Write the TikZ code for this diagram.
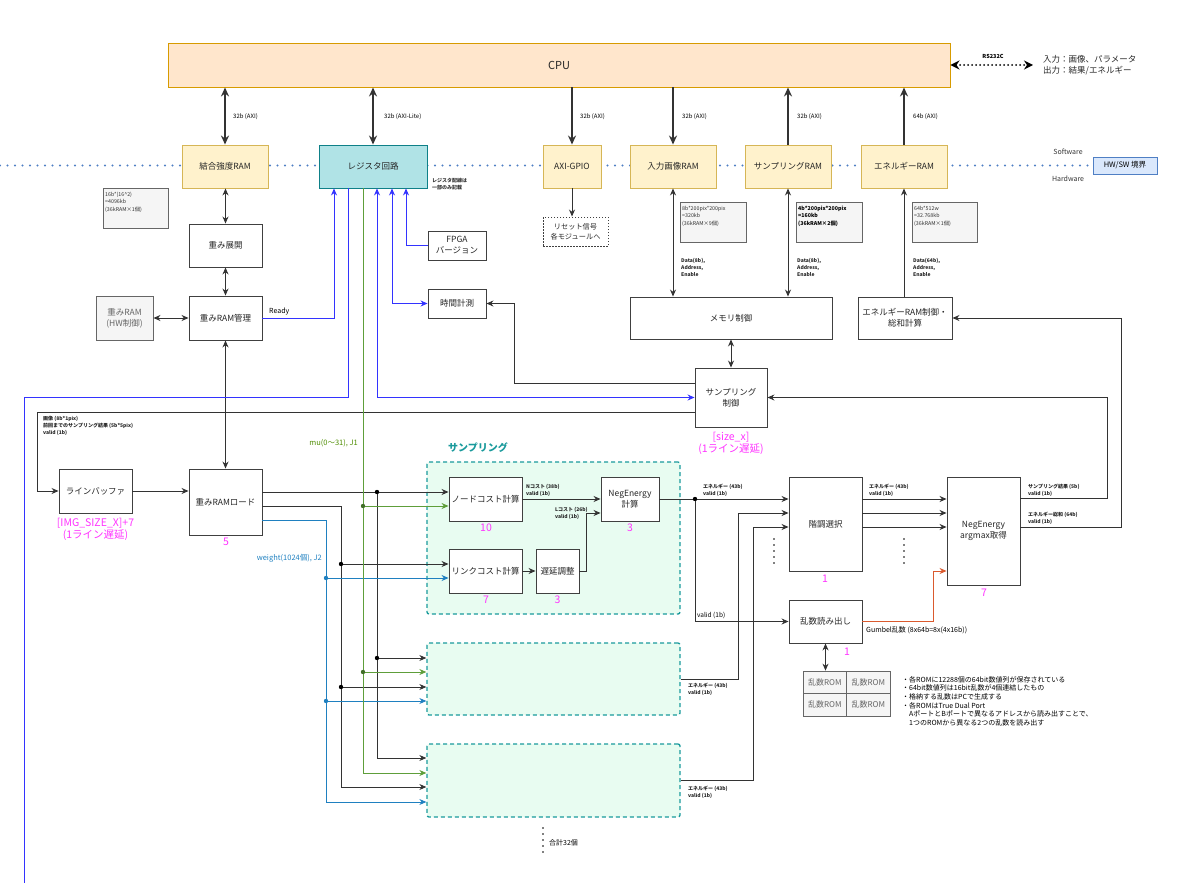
\documentclass[tikz,border=0pt]{standalone}
\usepackage{fontspec}
\setmainfont{Noto Sans CJK JP}
\usetikzlibrary{arrows.meta}

\definecolor{cpufill}{HTML}{FFE6CC}
\definecolor{cpuline}{HTML}{D79B00}
\definecolor{ramfill}{HTML}{FFF2CC}
\definecolor{ramline}{HTML}{D6B656}
\definecolor{regfill}{HTML}{B0E3E6}
\definecolor{regline}{HTML}{0E8088}
\definecolor{notefill}{HTML}{F5F5F5}
\definecolor{noteline}{HTML}{666666}
\definecolor{bndfill}{HTML}{DAE8FC}
\definecolor{bndline}{HTML}{4F7FC4}
\definecolor{sampfill}{HTML}{E8FCF1}
\definecolor{sampline}{HTML}{1A9A9C}
\definecolor{latpink}{HTML}{FF33FF}
\definecolor{regblue}{HTML}{3333FF}
\definecolor{mugreen}{HTML}{5E9E3A}
\definecolor{mutext}{HTML}{4D8C00}
\definecolor{wblue}{HTML}{1F80C0}
\definecolor{gumred}{HTML}{DA5A2E}

\tikzset{
  blk/.style={draw=black!75, fill=white, line width=0.9pt, align=center, text=black!85,
    font=\fontsize{8.5}{11}\selectfont, inner sep=1pt},
  ramblk/.style={blk, draw=ramline, fill=ramfill},
  memnote/.style={draw=noteline, fill=notefill, line width=0.8pt},
  notetxt/.style={anchor=north west, align=left, inner sep=0pt, font=\fontsize{5.3}{7.3}\selectfont, text=black!80},
  sampblk/.style={draw=sampline, fill=sampfill, line width=1.3pt, dash pattern=on 4pt off 3pt, rounded corners=2pt},
  wire/.style={draw=black!80, line width=0.9pt},
  axibus/.style={draw=black!80, line width=1.8pt, >={Stealth[length=9pt,width=8pt]}},
  regw/.style={draw=regblue, line width=0.9pt},
  muw/.style={draw=mugreen, line width=1pt},
  wbw/.style={draw=wblue, line width=0.9pt},
  sig/.style={anchor=north west, font=\fontsize{5}{7}\selectfont\bfseries, align=left, inner sep=0pt, text=black!85},
  axi/.style={anchor=west, font=\fontsize{6}{7}\selectfont, inner sep=0pt},
  lat/.style={text=latpink, font=\fontsize{10.5}{12}\selectfont, align=center, inner sep=0pt},
}

\begin{document}
\begin{tikzpicture}[x=1pt, y=-1pt, >={Stealth[length=7pt,width=6pt]}]
\useasboundingbox (0,0) rectangle (1179,883);

% Sampling blocks (32 in total)
\node[sampblk, minimum width=253pt, minimum height=152pt] (s1) at (553.5,538) {};
\node[sampblk, minimum width=253pt, minimum height=72pt] (s2) at (553.5,679) {};
\node[sampblk, minimum width=253pt, minimum height=73pt] (s3) at (553.5,780.5) {};
\node[text=sampline, font=\fontsize{10}{12}\selectfont\bfseries] (stitle) at (478,448) {サンプリング};

% HW/SW boundary
\node[draw=bndline, fill=bndfill, line width=0.9pt, minimum width=64pt, minimum height=17pt, inner sep=0pt,
  font=\fontsize{7.5}{9}\selectfont] (bnd) at (1125,165.5) {HW/SW 境界};
\coordinate (bl) at (0,165.5);
\draw[bndline, line width=2.4pt, line cap=round, dash pattern=on 0pt off 7.5pt] (bl) -- (bnd.west);
\node[font=\fontsize{7}{8}\selectfont, text=black!80] (swl) at (1068,152) {Software};
\node[font=\fontsize{7}{8}\selectfont, text=black!80] (hwl) at (1068,179) {Hardware};

% CPU
\node[blk, draw=cpuline, fill=cpufill, minimum width=782pt, minimum height=44pt, font=\fontsize{11}{13}\selectfont] (cpu) at (559,65) {CPU};
\coordinate (pc) at (1033,65);
\draw[line width=2pt, <->, >={Stealth[length=9pt,width=9pt]}, dash pattern=on 0pt off 4pt, line cap=round] (cpu.east) -- (pc);
\node[font=\fontsize{5.5}{6}\selectfont\bfseries] (rsl) at (993,56) {RS232C};
\node[anchor=west, align=left, font=\fontsize{8.5}{11}\selectfont, inner sep=0pt, text=black!85] (iol) at (1043,65) {入力：画像、パラメータ\\出力：結果/エネルギー};

% Top row
\node[ramblk, minimum width=86pt, minimum height=43pt] (wram) at (225,166.5) {結合強度RAM};
\node[blk, draw=regline, fill=regfill, minimum width=108pt, minimum height=43pt] (reg) at (373,166.5) {レジスタ回路};
\node[ramblk, minimum width=58pt, minimum height=43pt] (gpio) at (572,166.5) {AXI-GPIO};
\node[ramblk, minimum width=86pt, minimum height=43pt] (imgram) at (673,166.5) {入力画像RAM};
\node[ramblk, minimum width=86pt, minimum height=43pt] (smpram) at (788,166.5) {サンプリングRAM};
\node[ramblk, minimum width=86pt, minimum height=43pt] (eneram) at (904,166.5) {エネルギーRAM};

% AXI links
\draw[axibus, <->] (wram.north) -- (wram.north |- cpu.south);
\draw[axibus, <->] (reg.north) -- (reg.north |- cpu.south);
\draw[axibus, ->] (gpio.north |- cpu.south) -- (gpio.north);
\draw[axibus, ->] (imgram.north |- cpu.south) -- (imgram.north);
\draw[axibus, ->] (smpram.north) -- (smpram.north |- cpu.south);
\draw[axibus, ->] (eneram.north) -- (eneram.north |- cpu.south);
\node[axi] (ax1) at (233,117) {32b (AXI)};
\node[axi] (ax2) at (384,117) {32b (AXI-Lite)};
\node[axi] (ax3) at (580,117) {32b (AXI)};
\node[axi] (ax4) at (682,117) {32b (AXI)};
\node[axi] (ax5) at (797,117) {32b (AXI)};
\node[axi] (ax6) at (913,117) {64b (AXI)};

% RAM sizes
\node[memnote, minimum width=65pt, minimum height=40pt] (wnote) at (135.5,208) {};
\node[notetxt] (wnotet) at (105,192) {16b*(16\textasciicircum 2)\\=4096kb\\(36kRAM×1個)};
\node[memnote, minimum width=66pt, minimum height=40pt] (inote) at (713,222) {};
\node[notetxt] (inotet) at (682,206) {8b*200pix*200pix\\=320kb\\(36kRAM×9個)};
\node[memnote, minimum width=66pt, minimum height=40pt] (snote) at (829,222) {};
\node[notetxt, font=\fontsize{5.3}{7.3}\selectfont\bfseries, text=black] (snotet) at (798,206) {4b*200pix*200pix\\=160kb\\(36kRAM×2個)};
\node[memnote, minimum width=65pt, minimum height=40pt] (enote) at (944.5,222) {};
\node[notetxt] (enotet) at (914,206) {64b*512w\\=32.768kb\\(36kRAM×1個)};

% Weight RAM path
\node[blk, minimum width=73pt, minimum height=43pt] (expand) at (225.5,245.5) {重み展開};
\node[blk, minimum width=73pt, minimum height=44pt] (wmgr) at (225.5,318) {重みRAM管理};
\node[blk, draw=noteline, fill=notefill, text=black!60, minimum width=57pt, minimum height=44pt] (hwram) at (124.5,318) {重みRAM\\(HW制御)};
\draw[wire, <->] (expand.north) -- (expand.north |- wram.south);
\draw[wire, <->] (expand.south) -- (wmgr.north);
\draw[wire, <->] (hwram.east) -- (wmgr.west);

% Register side
\node[blk, minimum width=58pt, minimum height=29pt] (fpga) at (457,245.5) {FPGA\\バージョン};
\node[blk, minimum width=58pt, minimum height=29pt] (timer) at (457,303.5) {時間計測};
\node[notetxt, font=\fontsize{5}{7}\selectfont\bfseries] (regnote) at (432,178) {レジスタ配線は\\一部のみ記載};
\node[blk, dash pattern=on 1.5pt off 1.5pt, minimum width=65pt, minimum height=29pt, font=\fontsize{7.2}{10}\selectfont] (rst) at (575.5,231.5) {リセット信号\\各モジュールへ};
\draw[wire, ->] (gpio.south) -- (gpio.south |- rst.north);

% Memory control
\node[blk, minimum width=202pt, minimum height=42pt] (memctl) at (731,318) {メモリ制御};
\node[blk, minimum width=94pt, minimum height=42pt] (enectl) at (905,318) {エネルギーRAM制御・\\総和計算};
\node[blk, minimum width=72pt, minimum height=59pt] (smpctl) at (731,397.5) {サンプリング\\制御};
\draw[wire, <->] (imgram.south) -- (imgram.south |- memctl.north);
\draw[wire, <->] (smpram.south) -- (smpram.south |- memctl.north);
\draw[wire, ->] (eneram.south |- enectl.north) -- (eneram.south);
\draw[wire, <->] (smpctl.north |- memctl.south) -- (smpctl.north);
\node[sig] (d1) at (681,258) {Data(8b),\\Address,\\Enable};
\node[sig] (d2) at (797,258) {Data(8b),\\Address,\\Enable};
\node[sig] (d3) at (913,258) {Data(64b),\\Address,\\Enable};
\node[lat] (szx) at (731,443) {[size\_x]\\(1ライン遅延)};

% Line buffer and weight load
\node[blk, minimum width=73pt, minimum height=44pt] (lbuf) at (95.5,491) {ラインバッファ};
\node[blk, minimum width=73pt, minimum height=66pt] (wload) at (225.5,502) {重みRAMロード};
\node[lat] (imgx) at (95.5,529) {[IMG\_SIZE\_X]+7\\(1ライン遅延)};
\node[lat] (n5) at (226,542) {5};
\draw[wire, <->] (wmgr.south) -- (wload.north);
\draw[wire, ->] (lbuf.east) -- (wload.west |- lbuf.east);

% Register wiring
\coordinate (c1) at (334,0);
\coordinate (c2) at (348,0);
\coordinate (bm) at (363,0);
\coordinate (c3) at (377,0);
\coordinate (c4) at (392,0);
\coordinate (c5) at (406,0);
\coordinate (lft) at (24,883);
\draw[regw, ->] (wmgr.east) -| (reg.south -| c1);
\node[font=\fontsize{7}{8}\selectfont, anchor=south west, inner sep=1pt] (rdy) at (268,316) {Ready};
\draw[regw] (reg.south -| c2) |- (lft |- smpctl.west) -- (lft);
\draw[regw, <->] (reg.south -| c3) |- (smpctl.west);
\draw[regw, <->] (reg.south -| c4) |- (timer.west);
\draw[regw, ->] (fpga.west) -| (reg.south -| c5);

% Feedback to line buffer and timer
\coordinate (lp) at (37,412);
\coordinate (tm) at (514,383);
\draw[wire, ->] (smpctl.west |- lp) -- (lp) |- (lbuf.west);
\draw[wire, ->] (smpctl.west |- tm) -- (tm) |- (timer.east);
\node[sig] (lpl) at (43,416) {画像 (8b*1pix)\\前回までのサンプリング結果 (5b*5pix)\\valid (1b)};

% Sampling block contents
\node[blk, minimum width=73pt, minimum height=44pt] (ncost) at (485.5,499) {ノードコスト計算};
\node[blk, minimum width=73pt, minimum height=44pt] (lcost) at (485.5,571) {リンクコスト計算};
\node[blk, minimum width=43pt, minimum height=44pt] (dly) at (557.5,571) {遅延調整};
\node[blk, minimum width=58pt, minimum height=44pt] (negE) at (630,499) {NegEnergy\\計算};
\node[lat] (n10) at (486,528) {10};
\node[lat] (n7a) at (486,600) {7};
\node[lat] (n3a) at (557.5,600) {3};
\node[lat] (n3b) at (630,528) {3};
\draw[wire, ->] (ncost.east) -- (negE.west);
\draw[wire, ->] (lcost.east) -- (dly.west);
\draw[wire, ->] (dly.east) -- ++(7,0) |- ([yshift=-14pt]negE.west);
\node[sig] (ncl) at (526,484) {Nコスト (38b)\\valid (1b)};
\node[sig] (lcl) at (555,507) {Lコスト (26b)\\valid (1b)};

% Buses into sampling blocks
\coordinate (ba) at (377,0);
\coordinate (bb) at (341,0);
\coordinate (bw) at (326,0);
\coordinate (rN) at (0,492);
\coordinate (rM) at (0,506);
\coordinate (rW) at (0,520);
\coordinate (rL) at (0,564);
\coordinate (rV) at (0,578);
\coordinate (r2a) at (0,658);
\coordinate (r2m) at (0,672);
\coordinate (r2b) at (0,687);
\coordinate (r2w) at (0,701);
\coordinate (r3a) at (0,758);
\coordinate (r3m) at (0,773);
\coordinate (r3b) at (0,787);
\coordinate (r3w) at (0,802);
\draw[wire, ->] (wload.east |- rN) -- (ncost.west |- rN);
\draw[wire, ->] (ba |- rN) -- (ba |- r3a) -- (s3.west |- r3a);
\draw[wire, ->] (ba |- r2a) -- (s2.west |- r2a);
\draw[wire, ->] (wload.east |- rM) -| (bb |- r3b) -- (s3.west |- r3b);
\draw[wire, ->] (bb |- rL) -- (lcost.west |- rL);
\draw[wire, ->] (bb |- r2b) -- (s2.west |- r2b);
\draw[wbw, ->] (wload.east |- rW) -| (bw |- r3w) -- (s3.west |- r3w);
\draw[wbw, ->] (bw |- rV) -- (lcost.west |- rV);
\draw[wbw, ->] (bw |- r2w) -- (s2.west |- r2w);
\draw[muw, ->] (reg.south -| bm) -- (bm |- r3m) -- (s3.west |- r3m);
\draw[muw, ->] (bm |- rM) -- (ncost.west |- rM);
\draw[muw, ->] (bm |- r2m) -- (s2.west |- r2m);
\fill (ba |- rN) circle (2.2pt) (ba |- r2a) circle (2.2pt) (bb |- rL) circle (2.2pt) (bb |- r2b) circle (2.2pt);
\fill[wblue] (bw |- rV) circle (2.2pt) (bw |- r2w) circle (2.2pt);
\fill[mugreen!70!black] (bm |- rM) circle (2.2pt) (bm |- r2m) circle (2.2pt);
\node[anchor=east, text=mutext, font=\fontsize{7.5}{9}\selectfont, inner sep=0pt] (mul) at (358,443) {mu(0〜31), J1};
\node[anchor=east, text=wblue, font=\fontsize{7.5}{9}\selectfont, inner sep=0pt] (wl) at (322,558) {weight(1024個), J2};

% Gradation select and argmax
\node[blk, minimum width=73pt, minimum height=94pt] (grad) at (825.5,524) {階調選択};
\node[blk, minimum width=73pt, minimum height=108pt] (amax) at (983.5,531) {NegEnergy\\argmax取得};
\node[blk, minimum width=73pt, minimum height=43pt] (rnd) at (825.5,621.5) {乱数読み出し};
\node[lat] (n1a) at (825,579) {1};
\node[lat] (n7b) at (984,593) {7};
\node[lat] (n1b) at (847,652) {1};
\coordinate (tap) at (695,499);
\coordinate (k2) at (738,513);
\coordinate (k3) at (753,527);
\draw[wire, ->] (negE.east) -- (grad.west |- negE.east);
\draw[wire, ->] (tap) |- (rnd.west);
\fill (tap) circle (2.2pt);
\draw[wire, ->] (s2.east) -| (k2) -- (grad.west |- k2);
\draw[wire, ->] (s3.east) -| (k3) -- (grad.west |- k3);
\draw[wire, ->] (grad.east |- negE.east) -- (amax.west |- negE.east);
\draw[wire, ->] (grad.east |- k2) -- (amax.west |- k2);
\draw[wire, ->] (grad.east |- k3) -- (amax.west |- k3);
\node[sig] (e1) at (703,484) {エネルギー (43b)\\valid (1b)};
\node[sig] (e2) at (869,484) {エネルギー (43b)\\valid (1b)};
\node[sig] (e3) at (688,683) {エネルギー (43b)\\valid (1b)};
\node[sig] (e4) at (688,786) {エネルギー (43b)\\valid (1b)};
\node[anchor=west, font=\fontsize{6.5}{8}\selectfont, inner sep=0pt] (vl) at (697,615) {valid (1b)};
\foreach \k in {0,...,4}
  \fill (774,539+6*\k) circle (0.9pt) (904,539+6*\k) circle (0.9pt);

% Feedback from argmax
\coordinate (fb1) at (1107,498);
\coordinate (fb2) at (1121,527);
\draw[wire, ->] (amax.east |- fb1) -- (fb1) |- (smpctl.east);
\draw[wire, ->] (amax.east |- fb2) -- (fb2) |- (enectl.east);
\node[sig] (o1) at (1028,484) {サンプリング結果 (5b)\\valid (1b)};
\node[sig] (o2) at (1028,512) {エネルギー総和 (64b)\\valid (1b)};

% Random numbers
\coordinate (gb) at (933,571);
\draw[draw=gumred, line width=0.9pt, ->] (rnd.east) -| (gb) -- (amax.west |- gb);
\node[anchor=west, font=\fontsize{7}{8}\selectfont, inner sep=0pt] (gl) at (866,630) {Gumbel乱数 (8x64b=8x(4x16b))};
\node[memnote, text=black!60, minimum width=43.5pt, minimum height=22.5pt, inner sep=0pt, font=\fontsize{8}{9}\selectfont] (rom1) at (824.75,682.25) {乱数ROM};
\node[memnote, text=black!60, minimum width=43.5pt, minimum height=22.5pt, inner sep=0pt, font=\fontsize{8}{9}\selectfont] (rom2) at (868.25,682.25) {乱数ROM};
\node[memnote, text=black!60, minimum width=43.5pt, minimum height=22.5pt, inner sep=0pt, font=\fontsize{8}{9}\selectfont] (rom3) at (824.75,704.75) {乱数ROM};
\node[memnote, text=black!60, minimum width=43.5pt, minimum height=22.5pt, inner sep=0pt, font=\fontsize{8}{9}\selectfont] (rom4) at (868.25,704.75) {乱数ROM};
\draw[wire, <->] (rnd.south) -- (rnd.south |- rom1.north);
\node[anchor=north west, align=left, inner sep=0pt, font=\fontsize{7}{8.7}\selectfont] (romnote) at (902,676)
  {・各ROMに12288個の64bit数値列が保存されている\\・64bit数値列は16bit乱数が4個連結したもの\\・格納する乱数はPCで生成する\\・各ROMはTrue Dual Port\\\hspace*{7pt}AポートとBポートで異なるアドレスから読み出すことで、\\\hspace*{7pt}1つのROMから異なる2つの乱数を読み出す};

% Total count
\foreach \k in {0,...,4}
  \fill (543,828+6*\k) circle (0.8pt);
\node[anchor=west, font=\fontsize{7}{8}\selectfont, inner sep=0pt] (tot) at (549,843) {合計32個};
\end{tikzpicture}
\end{document}
